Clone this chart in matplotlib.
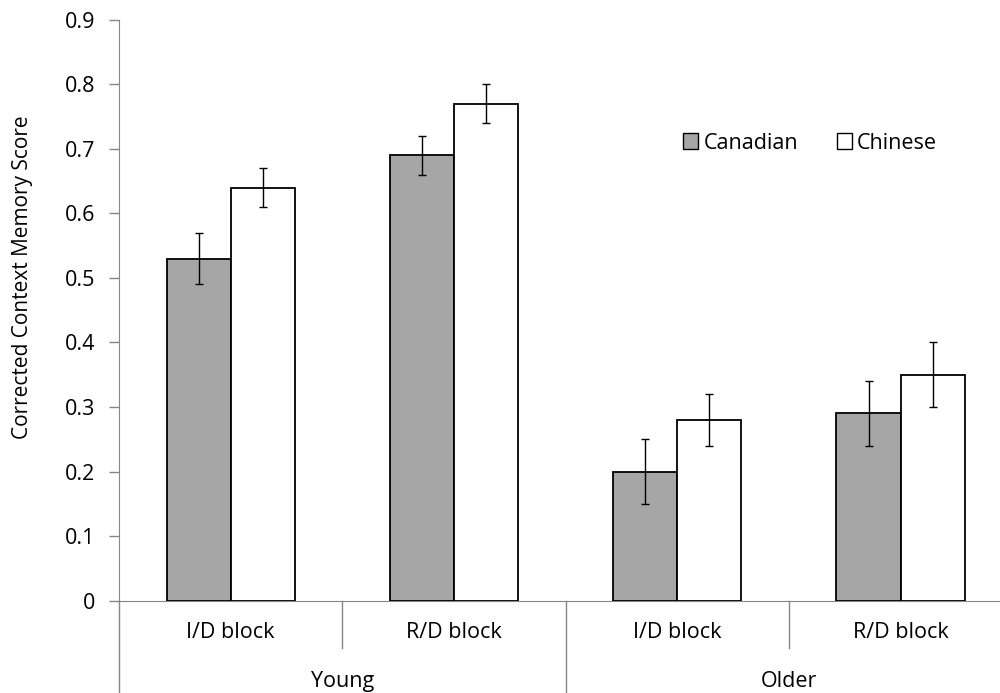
import matplotlib
matplotlib.use("Agg")
import matplotlib.pyplot as plt
import matplotlib.transforms as mtransforms
from matplotlib.patches import Patch
import numpy as np

plt.rcParams['font.family'] = ['Open Sans', 'DejaVu Sans']

groups = ["Young", "Older"]
blocks = ["I/D block", "R/D block", "I/D block", "R/D block"]
series = ["Canadian", "Chinese"]
canadian = [0.53, 0.69, 0.20, 0.29]
chinese = [0.64, 0.77, 0.28, 0.35]
canadian_err = [0.04, 0.03, 0.05, 0.05]
chinese_err = [0.03, 0.03, 0.04, 0.05]
yticks = [0, 0.1, 0.2, 0.3, 0.4, 0.5, 0.6, 0.7, 0.8, 0.9]

fig = plt.figure(figsize=(10, 6.93), dpi=100)
ax = fig.add_axes([0.119, 1 - 600.7 / 693, 1.0 - 0.119, (600.7 - 19.7) / 693])

x = np.arange(len(blocks))
w = 0.287
gray_axis = "#868686"
ax.bar(x - w / 2, canadian, w, color="#a6a6a6", edgecolor="black", linewidth=1.3,
       yerr=canadian_err, error_kw=dict(ecolor="black", elinewidth=1.0, capsize=3, capthick=1.0),
       label=series[0], zorder=3)
ax.bar(x + w / 2, chinese, w, color="white", edgecolor="black", linewidth=1.3,
       yerr=chinese_err, error_kw=dict(ecolor="black", elinewidth=1.0, capsize=3, capthick=1.0),
       label=series[1], zorder=3)

ax.set_xlim(-0.5, (1000 - 119) / 223.3 - 0.5)
ax.set_ylim(0, 0.9)
ax.set_yticks(yticks)
ax.set_yticklabels([("%g" % v) for v in yticks], fontsize=15.5)
ax.tick_params(axis='y', direction='out', length=7, color=gray_axis, width=1, pad=10)
ax.set_xticks([])
for s in ["top", "right"]:
    ax.spines[s].set_visible(False)
ax.spines["left"].set_color(gray_axis)
ax.spines["bottom"].set_color(gray_axis)
fig.text(23 / 1000, 1 - (118 + 437) / 2 / 693, "Corrected Context Memory Score",
         rotation=90, ha="center", va="center", fontsize=15)

trans = mtransforms.blended_transform_factory(ax.transData, ax.transAxes)
ax_h = 581.0
short = -47 / ax_h
full = -92 / ax_h
ax.plot([-0.5, -0.5], [0, full], transform=trans, color=gray_axis, lw=1, clip_on=False)
ax.plot([0.5, 0.5], [0, short], transform=trans, color=gray_axis, lw=1, clip_on=False)
ax.plot([1.5, 1.5], [0, full], transform=trans, color=gray_axis, lw=1, clip_on=False)
ax.plot([2.5, 2.5], [0, short], transform=trans, color=gray_axis, lw=1, clip_on=False)

for i, b in enumerate(blocks):
    ax.text(i, -32 / ax_h, b, transform=trans, ha="center", va="center", fontsize=15.5)
for gi, g in enumerate(groups):
    ax.text(gi * 2 + 0.5, -81 / ax_h, g, transform=trans, ha="center", va="center", fontsize=15.5)

handles = [Patch(facecolor="#a6a6a6", edgecolor="black", linewidth=1.0),
           Patch(facecolor="white", edgecolor="black", linewidth=1.0)]
ax.legend(handles, series, loc="center", bbox_to_anchor=((810 - 119) / 881, 1 - (143 - 19.7) / 581),
          ncol=2, frameon=False, fontsize=15.5, handlelength=0.7, handleheight=0.7,
          handletextpad=0.25, columnspacing=1.8)

fig.savefig("out.png", dpi=100)
